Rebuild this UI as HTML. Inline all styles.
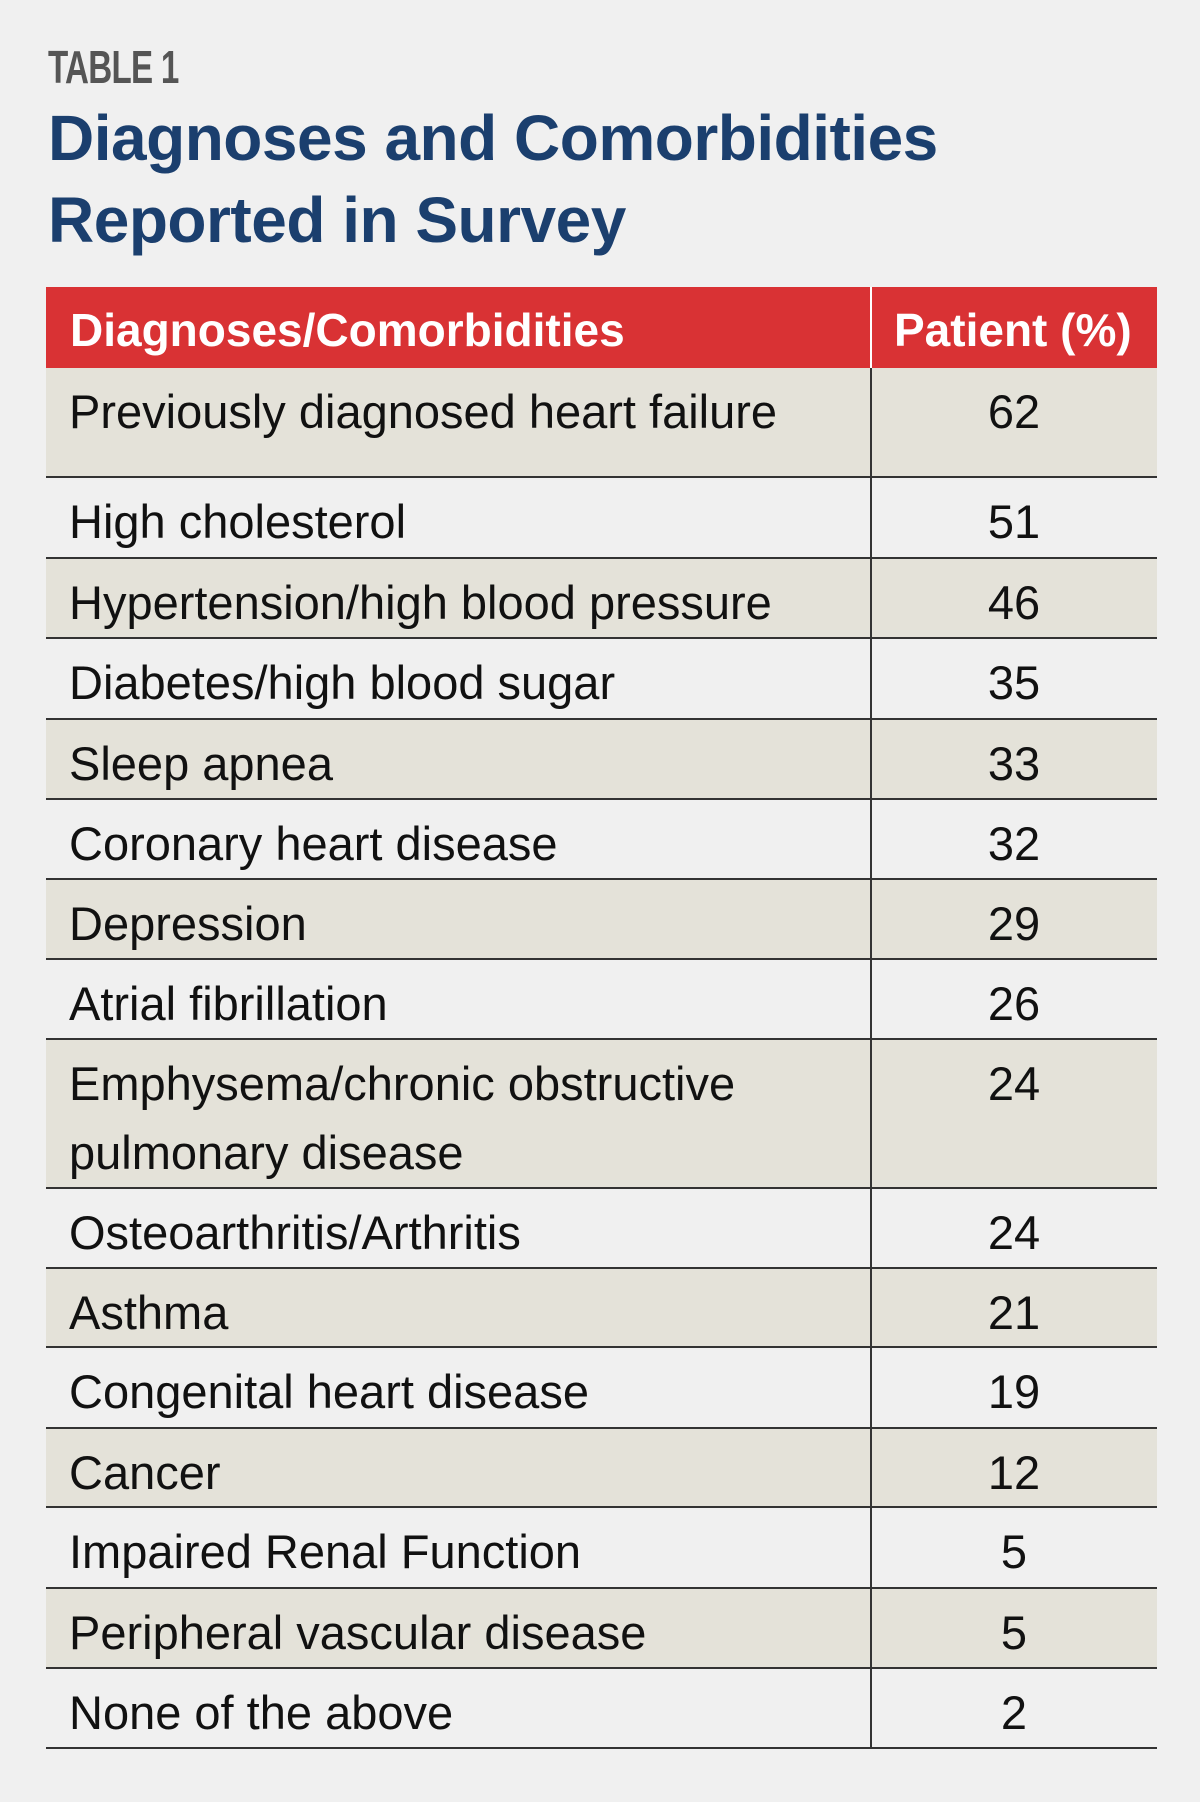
<!DOCTYPE html>
<html><head><meta charset="utf-8"><style>
body{margin:0;width:1200px;height:1802px;background:#f0f0f0;font-family:"Liberation Sans",sans-serif;position:relative;overflow:hidden}
.lab{position:absolute;left:48px;top:40px;font-size:46px;font-weight:bold;color:#555;transform:scaleX(0.72);transform-origin:left top;letter-spacing:-1px}
.t{position:absolute;left:48px;font-size:64px;font-weight:bold;color:#1b3f6e;letter-spacing:-0.5px}
.hd{position:absolute;left:46px;top:287px;width:1111px;height:81px;background:#d93234}
.hd span{position:absolute;top:16px;color:#fff;font-weight:bold;font-size:46px}
.r{position:absolute;left:46px;width:1111px;border-bottom:2px solid #333;box-sizing:border-box}
.r .a{position:absolute;left:23px;top:9px;font-size:47px;color:#111;line-height:69px}
.r .b{position:absolute;left:825px;width:286px;top:9px;text-align:center;font-size:47px;color:#111;line-height:69px}
.s{background:#e4e2d9}
.vl{position:absolute;left:870px;top:287px;width:2px;height:1461px;background:#333}
.vw{position:absolute;left:870px;top:287px;width:2px;height:81px;background:#fff}
</style></head><body>
<div class="lab">TABLE 1</div>
<div class="t" style="top:101px">Diagnoses and Comorbidities</div>
<div class="t" style="top:183px">Reported in Survey</div>
<div class="hd"><span style="left:24px">Diagnoses/Comorbidities</span><span style="left:848px">Patient (%)</span></div>
<div class="r s" style="top:368px;height:110px"><div class="a">Previously diagnosed heart failure</div><div class="b">62</div></div>
<div class="r" style="top:478px;height:81px"><div class="a">High cholesterol</div><div class="b">51</div></div>
<div class="r s" style="top:559px;height:80px"><div class="a">Hypertension/high blood pressure</div><div class="b">46</div></div>
<div class="r" style="top:639px;height:81px"><div class="a">Diabetes/high blood sugar</div><div class="b">35</div></div>
<div class="r s" style="top:720px;height:80px"><div class="a">Sleep apnea</div><div class="b">33</div></div>
<div class="r" style="top:800px;height:80px"><div class="a">Coronary heart disease</div><div class="b">32</div></div>
<div class="r s" style="top:880px;height:80px"><div class="a">Depression</div><div class="b">29</div></div>
<div class="r" style="top:960px;height:80px"><div class="a">Atrial fibrillation</div><div class="b">26</div></div>
<div class="r s" style="top:1040px;height:149px"><div class="a">Emphysema/chronic obstructive<br>pulmonary disease</div><div class="b">24</div></div>
<div class="r" style="top:1189px;height:80px"><div class="a">Osteoarthritis/Arthritis</div><div class="b">24</div></div>
<div class="r s" style="top:1269px;height:79px"><div class="a">Asthma</div><div class="b">21</div></div>
<div class="r" style="top:1348px;height:81px"><div class="a">Congenital heart disease</div><div class="b">19</div></div>
<div class="r s" style="top:1429px;height:79px"><div class="a">Cancer</div><div class="b">12</div></div>
<div class="r" style="top:1508px;height:81px"><div class="a">Impaired Renal Function</div><div class="b">5</div></div>
<div class="r s" style="top:1589px;height:80px"><div class="a">Peripheral vascular disease</div><div class="b">5</div></div>
<div class="r" style="top:1669px;height:80px"><div class="a">None of the above</div><div class="b">2</div></div>
<div class="vl"></div><div class="vw"></div>
</body></html>
